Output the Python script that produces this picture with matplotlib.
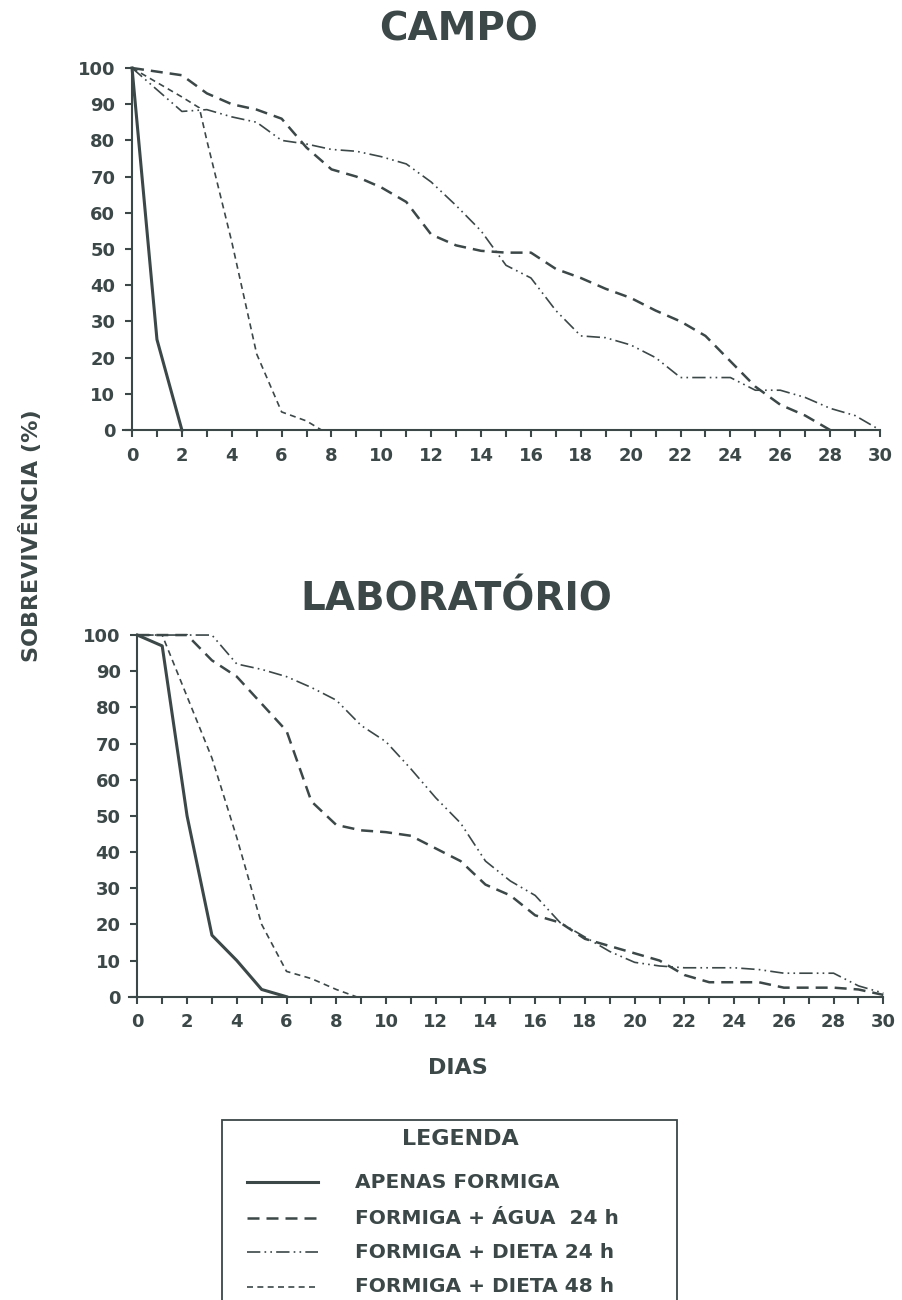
import matplotlib
matplotlib.use("Agg")
import matplotlib.pyplot as plt
from matplotlib.lines import Line2D
from matplotlib.patches import Rectangle

# ---------------- data ----------------
# CAMPO
campo_apenas_x = [0, 1, 2]
campo_apenas_y = [100, 25, 0]

campo_agua_x = list(range(0, 29))
campo_agua_y = [100, 99, 98, 93, 90, 88.5, 86, 78, 72, 70, 67, 63, 54, 51, 49.5,
                49, 49, 44.5, 42, 39, 36.5, 33, 30, 26, 19, 12, 7, 4, 0]

campo_dieta24_x = list(range(0, 31))
campo_dieta24_y = [100, 94, 88, 88.5, 86.5, 85, 80, 79, 77.5, 77, 75.5, 73.5, 68.5,
                   62, 55, 45.5, 42, 33, 26, 25.5, 23.5, 20, 14.5, 14.5, 14.5, 11,
                   11, 9, 6, 4, 0]

campo_dieta48_x = [0, 1, 2, 2.7, 3, 4, 5, 6, 7, 7.6]
campo_dieta48_y = [100, 96, 92, 89, 80, 52, 21, 5, 2.5, 0]

# LABORATÓRIO
lab_apenas_x = [0, 1, 2, 3, 4, 5, 6]
lab_apenas_y = [100, 97, 50, 17, 10, 2, 0]

lab_agua_x = list(range(0, 31))
lab_agua_y = [100, 100, 100, 93, 88.5, 81, 73.5, 54, 47.5, 46, 45.5, 44.5, 41, 37.5,
              31, 28, 22.5, 20.5, 16, 14, 12, 10, 6, 4, 4, 4, 2.5, 2.5, 2.5, 2, 0.5]

lab_dieta24_x = list(range(0, 31))
lab_dieta24_y = [100, 100, 100, 100, 92, 90.5, 88.5, 85.5, 82, 75, 70.5, 63, 55, 48,
                 37.5, 32, 28, 20.5, 16.5, 12.5, 9.5, 8.5, 8, 8, 8, 7.5, 6.5, 6.5,
                 6.5, 3, 1]

lab_dieta48_x = [0, 1, 2, 3, 4, 5, 6, 7, 8, 8.8]
lab_dieta48_y = [100, 100, 83, 66, 44, 20, 7, 5, 2, 0]

titles = ["CAMPO", "LABORATÓRIO"]
legend_labels = ["APENAS FORMIGA", "FORMIGA + ÁGUA  24 h",
                 "FORMIGA + DIETA 24 h", "FORMIGA + DIETA 48 h"]
x_ticks = list(range(0, 31, 2))
y_ticks = list(range(0, 101, 10))

# ---------------- styles ----------------
INK = "#3c4747"
FONT = "DejaVu Sans"
styles = [
    dict(color=INK, lw=2.2, ls="-"),
    dict(color=INK, lw=1.8, ls=(0, (4.8, 2.8))),
    dict(color=INK, lw=1.2, ls=(0, (8, 2.5, 1, 2.5, 1, 2.5))),
    dict(color=INK, lw=1.2, ls=(0, (3.6, 2.6))),
]

fig = plt.figure(figsize=(9.02, 13.0), dpi=100)
fig.patch.set_facecolor("white")

panels = [
    (titles[0], [0.1367, 0.6692, 0.8389, 0.2785],
     [(campo_apenas_x, campo_apenas_y), (campo_agua_x, campo_agua_y),
      (campo_dieta24_x, campo_dieta24_y), (campo_dieta48_x, campo_dieta48_y)]),
    (titles[1], [0.1426, 0.2333, 0.8367, 0.2782],
     [(lab_apenas_x, lab_apenas_y), (lab_agua_x, lab_agua_y),
      (lab_dieta24_x, lab_dieta24_y), (lab_dieta48_x, lab_dieta48_y)]),
]

for title, rect, series in panels:
    ax = fig.add_axes(rect)
    for (xs, ys), st in zip(series, styles):
        ax.plot(xs, ys, color=st["color"], lw=st["lw"], linestyle=st["ls"],
                clip_on=False, solid_joinstyle="round", dash_joinstyle="round")
    ax.set_xlim(-0.35, 30)
    ax.set_ylim(0, 100)
    ax.spines["top"].set_visible(False)
    ax.spines["right"].set_visible(False)
    ax.spines["left"].set_position(("data", 0))
    for s in ("left", "bottom"):
        ax.spines[s].set_linewidth(1.5)
        ax.spines[s].set_color(INK)
    ax.set_xticks(x_ticks)
    ax.set_xticks(list(range(0, 31)), minor=True)
    ax.set_yticks(y_ticks)
    ax.tick_params(axis="both", which="both", direction="out", length=5,
                   width=1.5, color=INK)
    ax.tick_params(axis="x", which="major", pad=7)
    ax.tick_params(axis="y", which="major", pad=7)
    for lab in ax.get_xticklabels() + ax.get_yticklabels():
        lab.set_fontsize(13)
        lab.set_fontweight("bold")
        lab.set_color(INK)
        lab.set_family(FONT)
    ax.set_facecolor("none")

fig.text(0.508, 0.977, titles[0], ha="center", va="center", fontsize=28,
         fontweight="bold", color=INK, family=FONT)
fig.text(0.506, 0.539, titles[1], ha="center", va="center", fontsize=28,
         fontweight="bold", color=INK, family=FONT)
fig.text(0.034, 0.588, "SOBREVIVÊNCIA (%)", rotation=90, ha="center", va="center",
         fontsize=16, fontweight="bold", color=INK, family=FONT)
fig.text(0.508, 0.1785, "DIAS", ha="center", va="center", fontsize=16,
         fontweight="bold", color=INK, family=FONT)

# legend box
fig.patches.append(Rectangle((0.246, -0.05), 0.504, 0.1885, transform=fig.transFigure,
                             facecolor="none", edgecolor=INK, lw=1.3))
fig.text(0.51, 0.1235, "LEGENDA", ha="center", va="center", fontsize=16,
         fontweight="bold", color=INK, family=FONT)
row_y = [1 - 1182 / 1300, 1 - 1218 / 1300, 1 - 1252 / 1300, 1 - 1287 / 1300]
for yy, lab, st in zip(row_y, legend_labels, styles):
    fig.lines.append(Line2D([0.274, 0.3525], [yy, yy], transform=fig.transFigure,
                            color=st["color"], lw=st["lw"], linestyle=st["ls"]))
    fig.text(0.3936, yy, lab, ha="left", va="center", fontsize=14.5,
             fontweight="bold", color=INK, family=FONT)

fig.savefig("out.png", dpi=100, facecolor="white")
